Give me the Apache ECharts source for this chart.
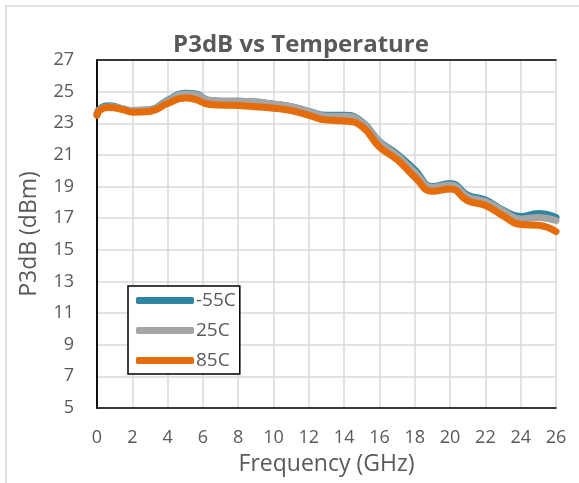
<!DOCTYPE html>
<html><head><meta charset="utf-8">
<script src="https://cdn.jsdelivr.net/npm/echarts@6/dist/echarts.min.js"></script>
<style>html,body{margin:0;padding:0;background:#fff}#c{width:579px;height:483px}</style>
</head><body><div id="c"></div>
<script>
const freq = [0, 0.2, 0.7, 1.5, 2, 3, 4, 5, 5.6, 6.3, 7, 8, 9, 10, 11, 12, 13, 14, 15, 16, 17, 18, 19, 20, 21, 22, 23, 24, 25, 26];
const tM55 = [23.6, 23.95, 24.1, 23.9, 23.8, 23.85, 24.45, 24.9, 24.85, 24.45, 24.4, 24.4, 24.35, 24.2, 24.05, 23.75, 23.5, 23.5, 23.1, 21.85, 21.05, 20.05, 19.0, 19.2, 18.45, 18.15, 17.5, 17.1, 17.3, 17.05];
const t25 = [23.6, 23.9, 24.05, 23.9, 23.8, 23.85, 24.4, 24.85, 24.8, 24.45, 24.4, 24.4, 24.35, 24.2, 24.05, 23.75, 23.45, 23.45, 23.05, 21.8, 20.95, 19.9, 18.95, 19.1, 18.35, 18.05, 17.45, 16.95, 17.05, 16.85];
const t85 = [23.5, 23.85, 24.0, 23.85, 23.7, 23.75, 24.25, 24.6, 24.5, 24.2, 24.15, 24.12, 24.05, 23.95, 23.8, 23.5, 23.2, 23.15, 22.8, 21.5, 20.7, 19.6, 18.7, 18.85, 18.1, 17.8, 17.15, 16.6, 16.55, 16.15];
const seriesNames = ['-55C', '25C', '85C'];
const yTicks = [5, 7, 9, 11, 13, 15, 17, 19, 21, 23, 25, 27];
const xTicks = [0, 2, 4, 6, 8, 10, 12, 14, 16, 18, 20, 22, 24, 26];

const colors = ['#2F86A0', '#A5A5A5', '#E46C0A'];
const font = "'Open Sans', sans-serif";
const txt = '#595959';
const frame = { show: true, lineStyle: { color: '#000', width: 1.5 } };
const pairs = arr => freq.map((f, i) => [f, arr[i]]);
const chart = echarts.init(document.getElementById('c'));
chart.setOption({
  animation: false,
  title: { text: 'P3dB vs Temperature', left: 296, textAlign: 'center', top: 28,
    textStyle: { fontFamily: font, fontSize: 24, fontWeight: 'bold', color: txt } },
  graphic: [{ type: 'rect', shape: { x: 6, y: 6, width: 700, height: 700 }, style: { fill: 'none', stroke: '#d9d9d9', lineWidth: 1.5 }, silent: true }],
  grid: { left: 97, right: 23, top: 60, bottom: 75 },
  legend: {
    orient: 'vertical', left: 128, top: 286, padding: [5, 4, 4, 8],
    borderColor: '#000', borderWidth: 1.5, backgroundColor: '#fff',
    itemWidth: 58, itemHeight: 7, itemGap: 11, icon: 'roundRect',
    textStyle: { fontFamily: font, fontSize: 19, color: txt, padding: [0, 0, 0, -3] },
    data: seriesNames
  },
  xAxis: [{
    type: 'value', min: 0, max: 26, interval: 2,
    name: 'Frequency (GHz)', nameLocation: 'middle', nameGap: 45,
    nameTextStyle: { fontFamily: font, fontSize: 23, color: txt },
    axisLine: frame, axisTick: { show: false },
    axisLabel: { fontFamily: font, fontSize: 18, color: txt, margin: 21, formatter: v => String(xTicks[v / 2]) },
    splitLine: { lineStyle: { color: '#d9d9d9', width: 1.5 } }
  }, {
    type: 'value', min: 0, max: 26, position: 'top', axisLine: frame,
    axisTick: { show: false }, axisLabel: { show: false }, splitLine: { show: false }
  }],
  yAxis: [
    { type: 'value', min: 5, max: 27, position: 'right', axisLine: frame,
      axisTick: { show: false }, axisLabel: { show: false }, splitLine: { show: false } },
    { type: 'value', min: 0, max: 22, interval: 2, position: 'left',
      name: 'P3dB (dBm)', nameLocation: 'middle', nameGap: 56,
      nameTextStyle: { fontFamily: font, fontSize: 23, color: txt },
      axisLine: frame, axisTick: { show: false },
      axisLabel: { fontFamily: font, fontSize: 18, color: txt, margin: 23, formatter: v => String(yTicks[v / 2]) },
      splitLine: { lineStyle: { color: '#d9d9d9', width: 1.5 } } }
  ],
  series: [tM55, t25, t85].map((arr, i) => ({
    name: seriesNames[i], type: 'line', xAxisIndex: 0, yAxisIndex: 0, smooth: 0.5,
    showSymbol: false, symbol: 'none', data: pairs(arr),
    lineStyle: { color: colors[i], width: 7, cap: 'round', join: 'round' },
    itemStyle: { color: colors[i] }
  }))
});
</script></body></html>
